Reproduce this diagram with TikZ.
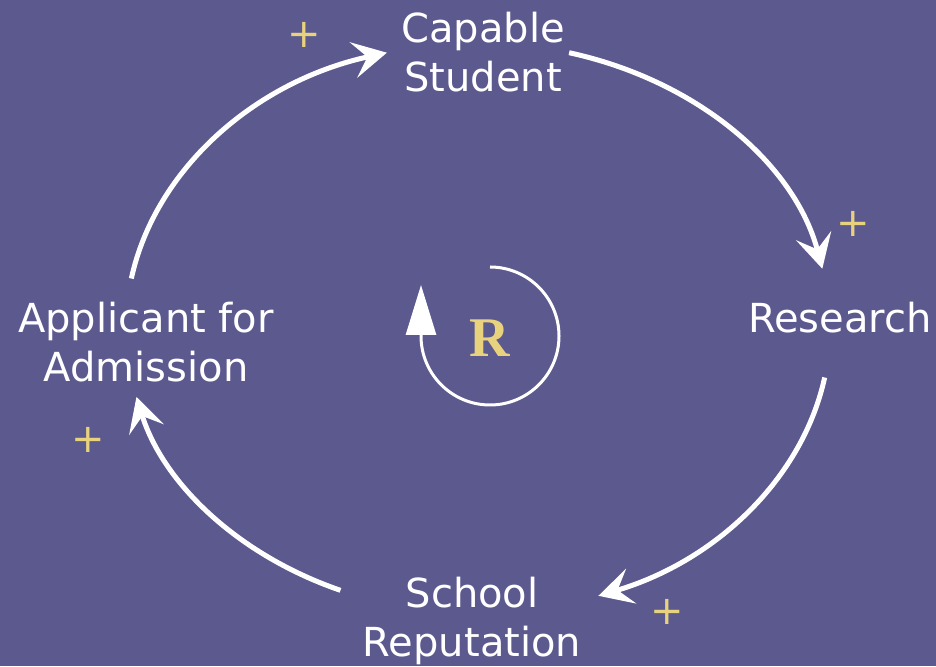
\documentclass[tikz,border=0pt]{standalone}
\usepackage{fontspec}
\setmainfont{DejaVu Sans}
\newfontfamily\rfont{Liberation Serif}
\usetikzlibrary{arrows.meta,calc}
\definecolor{bgpurple}{RGB}{91,89,142}
\definecolor{plusyellow}{RGB}{232,210,125}
\begin{document}
\begin{tikzpicture}[x=1pt,y=1pt,
  lbl/.style={text=white,font=\fontsize{40}{49}\selectfont,align=center,inner sep=0pt},
  plus/.style={text=plusyellow,font=\fontsize{40}{40}\selectfont,inner sep=0pt},
  link/.style={white,line width=5pt,-{Stealth[length=34pt,width=36pt,inset=14pt]}},
  loopline/.style={white,line width=3pt}]
\fill[bgpurple] (0,0) rectangle (936,666);
\useasboundingbox (0,0) rectangle (936,666);
% variables
\node[lbl] (cap) at (483,614) {Capable\\Student};
\node[lbl] (res) at (840,348) {Research};
\node[lbl] (sch) at (472,45) {School\\Reputation};
\node[lbl] (app) at (146,324) {Applicant for\\Admission};
% big loop
\coordinate (O) at (478,338);
\coordinate (s1) at ($(O)+(170:352 and 285)$);
\coordinate (s2) at ($(O)+(75:352 and 285)$);
\coordinate (s3) at ($(O)+(-10:352 and 285)$);
\coordinate (s4) at ($(O)+(-113:352 and 285)$);
\draw[link] (s1) arc[start angle=170,end angle=105,x radius=352,y radius=285];
\draw[link] (s2) arc[start angle=75,end angle=12,x radius=352,y radius=285];
\draw[link] (s3) arc[start angle=-10,end angle=-70,x radius=352,y radius=285];
\draw[link] (s4) arc[start angle=-113,end angle=-166,x radius=352,y radius=285];
% polarity signs
\node[plus] (p1) at (304,631) {+};
\node[plus] (p2) at (853,442) {+};
\node[plus] (p3) at (88,226) {+};
\node[plus] (p4) at (667,54) {+};
% reinforcing loop marker
\coordinate (Rc) at (490,330);
\coordinate (lt) at ($(Rc)+(0,69)$);
\draw[loopline,-{Triangle[length=50pt,width=30pt]}] (lt) arc[start angle=90,end angle=-180,radius=69] -- ++(0,51);
\node[text=plusyellow,font=\rfont\bfseries\fontsize{56}{56}\selectfont,inner sep=0pt] (R) at (490,328) {R};
\end{tikzpicture}
\end{document}
